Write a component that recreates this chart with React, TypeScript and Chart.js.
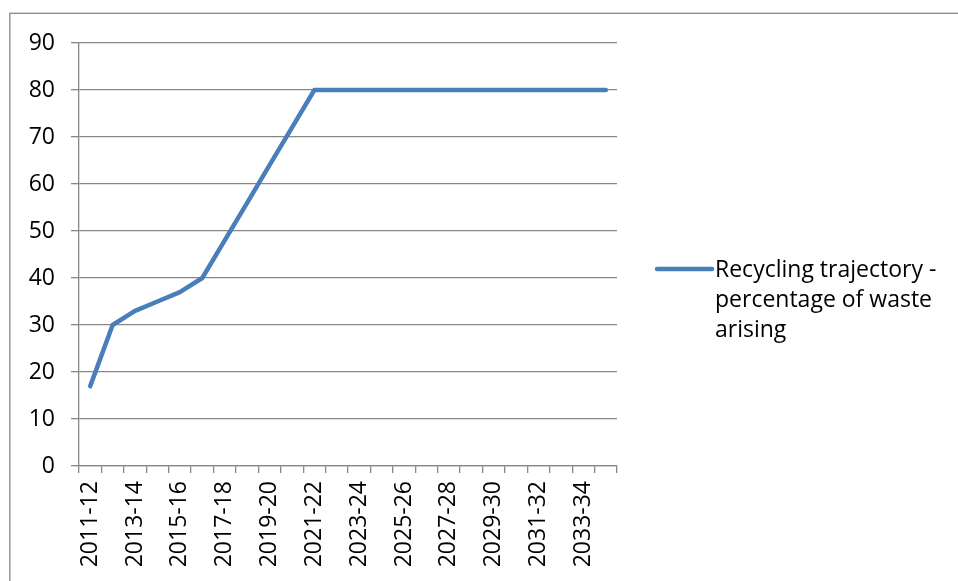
import React, { useEffect, useRef } from "react";
import { Chart, registerables } from "chart.js";

Chart.register(...registerables);

// Financial years shown on the category axis
const years: string[] = [
  "2011-12", "2012-13", "2013-14", "2014-15", "2015-16", "2016-17",
  "2017-18", "2018-19", "2019-20", "2020-21", "2021-22", "2022-23",
  "2023-24", "2024-25", "2025-26", "2026-27", "2027-28", "2028-29",
  "2029-30", "2030-31", "2031-32", "2032-33", "2033-34", "2034-35",
];

// Recycling rate, % of waste arising
const recyclingRate: number[] = [
  17, 30, 33, 35, 37, 40, 48, 56, 64, 72, 80, 80,
  80, 80, 80, 80, 80, 80, 80, 80, 80, 80, 80, 80,
];

const seriesLabel = "Recycling trajectory - percentage of waste arising";
const legendLines: string[] = ["Recycling trajectory -", "percentage of waste", "arising"];

const yMin = 0;
const yMax = 90;
const yStep = 10;

const FONT = "'Open Sans', sans-serif";
const LINE_BLUE = "#4a7ebb";
const AXIS_GREY = "#878787";

// Outer frame plus the right-hand legend
const framePlugin = {
  id: "frameAndLegend",
  afterDraw(chart: Chart) {
    const ctx = chart.ctx;
    ctx.save();
    ctx.strokeStyle = AXIS_GREY;
    ctx.lineWidth = 1.3;
    ctx.strokeRect(9.8, 13.3, 2000, 2000);

    const ds = chart.data.datasets[0] as any;
    const area = chart.chartArea;
    const x0 = area.right + 40;
    const yLine = 269;
    ctx.strokeStyle = ds.borderColor;
    ctx.lineWidth = 4.5;
    ctx.lineCap = "round";
    ctx.beginPath();
    ctx.moveTo(x0, yLine);
    ctx.lineTo(x0 + 55, yLine);
    ctx.stroke();

    ctx.fillStyle = "#000";
    ctx.font = `23px ${FONT}`;
    ctx.textAlign = "left";
    ctx.textBaseline = "middle";
    legendLines.forEach((t, i) => {
      ctx.fillText(t, x0 + 58, yLine + 1 + i * 30);
    });
    ctx.restore();
  },
};

export default function App() {
  const canvasRef = useRef<HTMLCanvasElement | null>(null);

  useEffect(() => {
    if (!canvasRef.current) return;
    const chart = new Chart(canvasRef.current, {
      type: "line",
      data: {
        labels: years,
        datasets: [
          {
            label: seriesLabel,
            data: recyclingRate,
            borderColor: LINE_BLUE,
            backgroundColor: LINE_BLUE,
            borderWidth: 4.5,
            borderCapStyle: "round",
            borderJoinStyle: "round",
            tension: 0,
            pointRadius: 0,
            pointHoverRadius: 0,
            fill: false,
          },
        ],
      },
      options: {
        animation: false,
        responsive: false,
        maintainAspectRatio: false,
        layout: { padding: { left: 0, top: 43, right: 341, bottom: 0 } },
        plugins: {
          legend: { display: false },
          tooltip: { enabled: false },
          title: { display: false },
        },
        scales: {
          x: {
            type: "category",
            offset: true,
            grid: {
              offset: true,
              drawOnChartArea: false,
              drawTicks: true,
              tickLength: 7,
              color: AXIS_GREY,
              lineWidth: 1.3,
            },
            border: { display: true, color: AXIS_GREY, width: 1.3 },
            ticks: {
              autoSkip: false,
              maxRotation: 90,
              minRotation: 90,
              padding: 8,
              color: "#000",
              font: { family: FONT, size: 23 },
              callback: (_v: any, i: number) => (i % 2 === 0 ? years[i] : ""),
            },
            afterFit: (scale: any) => {
              scale.height = 115;
            },
          },
          y: {
            min: yMin,
            max: yMax,
            grid: {
              color: AXIS_GREY,
              lineWidth: 1.3,
              drawTicks: true,
              tickLength: 8,
            },
            border: { display: true, color: AXIS_GREY, width: 1.3 },
            ticks: {
              stepSize: yStep,
              padding: 16,
              color: "#000",
              font: { family: FONT, size: 23 },
            },
            afterFit: (scale: any) => {
              scale.width = 79;
            },
          },
        },
      },
      plugins: [framePlugin],
    });
    return () => chart.destroy();
  }, []);

  return (
    <div style={{ position: "fixed", left: 0, top: 0, width: 958, height: 581, background: "#fff" }}>
      <canvas ref={canvasRef} width={958} height={581} style={{ width: 958, height: 581, display: "block" }} />
    </div>
  );
}
